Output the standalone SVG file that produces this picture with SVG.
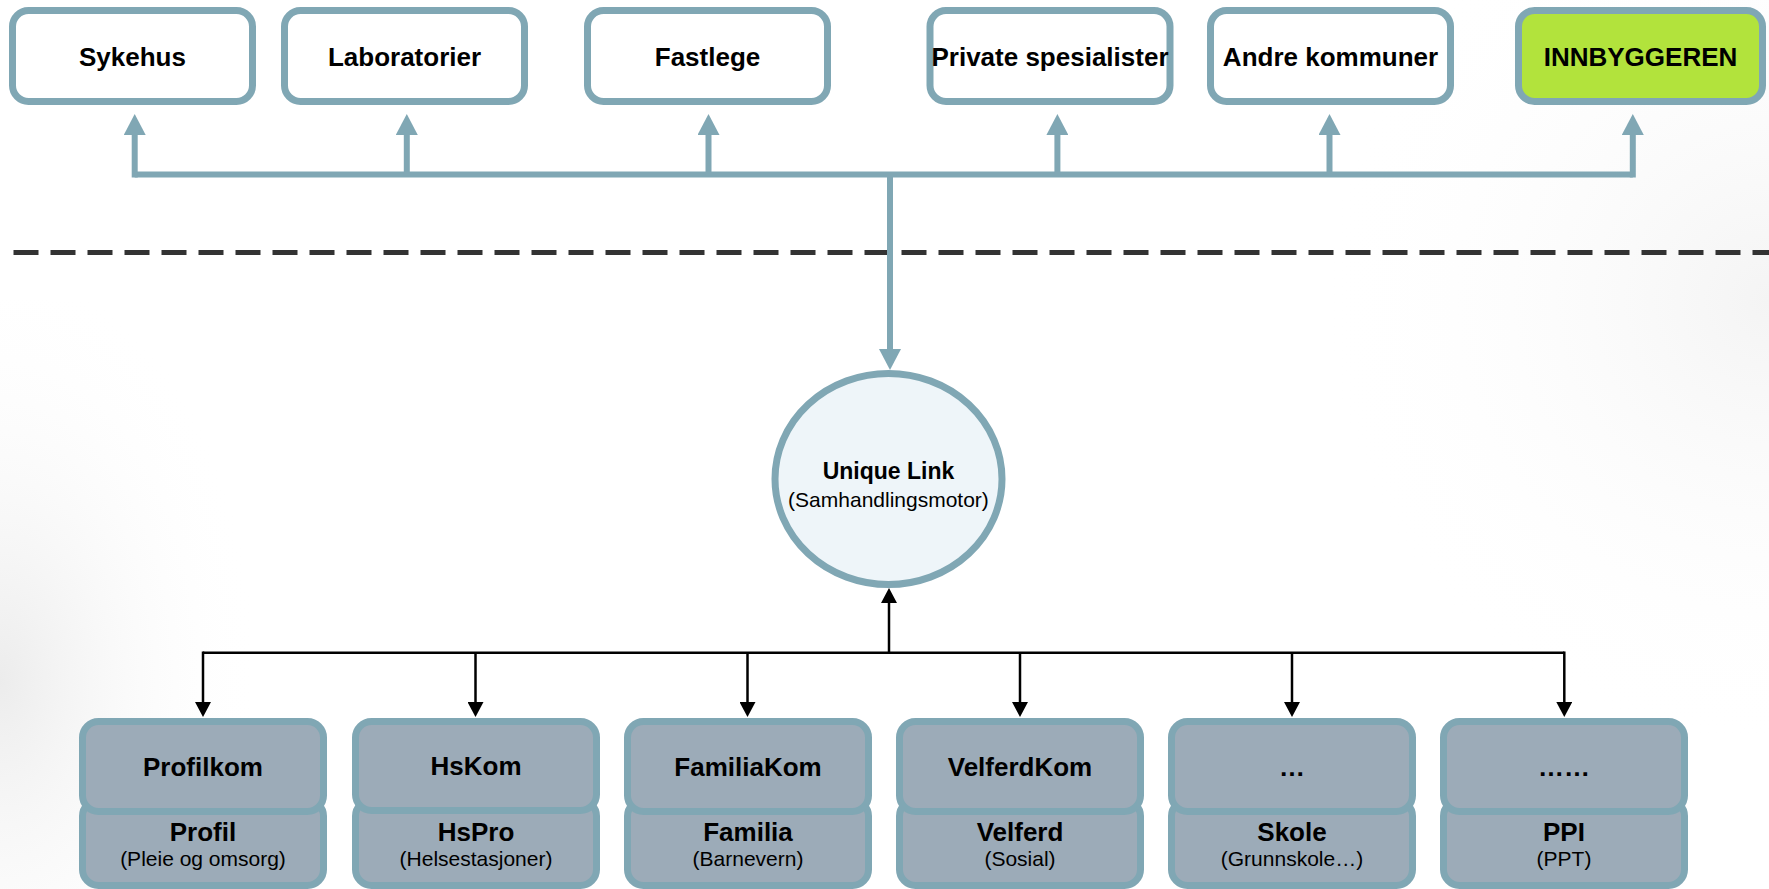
<svg xmlns="http://www.w3.org/2000/svg" width="1769" height="889" viewBox="0 0 1769 889">
  <defs>
    <radialGradient id="bgLeft" cx="0" cy="680" r="260" gradientUnits="userSpaceOnUse" gradientTransform="translate(0,680) scale(1,1.6) translate(0,-680)">
      <stop offset="0" stop-color="#ececec"/>
      <stop offset="1" stop-color="#ffffff" stop-opacity="0"/>
    </radialGradient>
    <radialGradient id="bgRight" cx="1769" cy="300" r="450" gradientUnits="userSpaceOnUse">
      <stop offset="0" stop-color="#f4f4f4"/>
      <stop offset="1" stop-color="#ffffff" stop-opacity="0"/>
    </radialGradient>
    <marker id="blueHead" markerUnits="userSpaceOnUse" markerWidth="21" markerHeight="22" refX="0" refY="11" orient="auto" viewBox="0 0 21 22">
      <path d="M0,0 L21,11 L0,22 Z" fill="#80a7b4"/>
    </marker>
    <marker id="blackHead" markerUnits="userSpaceOnUse" markerWidth="15" markerHeight="16" refX="0" refY="8" orient="auto" viewBox="0 0 15 16">
      <path d="M0,0 L15,8 L0,16 Z" fill="#000"/>
    </marker>
  </defs>
  <style>
    .top rect { fill: #ffffff; stroke: #80a7b4; stroke-width: 7; }
    .top rect.green { fill: #b2e33c; }
    .bot rect { fill: #9cabb8; stroke: #80a7b4; stroke-width: 7; }
    .t { font-family: "Liberation Sans", Arial, sans-serif; fill: #000; text-anchor: middle; }
    .b26 { font-size: 26px; font-weight: bold; }
    .r21 { font-size: 21px; }
    .blue { fill: none; stroke: #80a7b4; stroke-width: 6; }
    .blk { fill: none; stroke: #000; stroke-width: 2.5; }
  </style>

  <rect x="0" y="0" width="1769" height="889" fill="#ffffff"/>
  <rect x="0" y="300" width="300" height="589" fill="url(#bgLeft)"/>
  <rect x="1300" y="0" width="469" height="760" fill="url(#bgRight)"/>

  <line x1="13.5" y1="252.5" x2="1769" y2="252.5" stroke="#333333" stroke-width="5" stroke-dasharray="25 12"/>

  <g id="connectors">
    <path class="blue" d="M134.7,174.5 H1632.8"/>
    <line class="blue" x1="134.7" y1="177.5" x2="134.7" y2="135" marker-end="url(#blueHead)"/>
    <line class="blue" x1="406.8" y1="174.5" x2="406.8" y2="135" marker-end="url(#blueHead)"/>
    <line class="blue" x1="708.5" y1="174.5" x2="708.5" y2="135" marker-end="url(#blueHead)"/>
    <line class="blue" x1="1057.4" y1="174.5" x2="1057.4" y2="135" marker-end="url(#blueHead)"/>
    <line class="blue" x1="1329.5" y1="174.5" x2="1329.5" y2="135" marker-end="url(#blueHead)"/>
    <line class="blue" x1="1632.8" y1="177.5" x2="1632.8" y2="135" marker-end="url(#blueHead)"/>
    <line class="blue" x1="890" y1="174.5" x2="890" y2="349" marker-end="url(#blueHead)"/>

    <line class="blk" x1="889" y1="652.7" x2="889" y2="603" marker-end="url(#blackHead)"/>
    <path class="blk" d="M203,652.7 H1564.3"/>
    <line class="blk" x1="203" y1="651.5" x2="203" y2="702" marker-end="url(#blackHead)"/>
    <line class="blk" x1="475.5" y1="652.7" x2="475.5" y2="702" marker-end="url(#blackHead)"/>
    <line class="blk" x1="747.5" y1="652.7" x2="747.5" y2="702" marker-end="url(#blackHead)"/>
    <line class="blk" x1="1020" y1="652.7" x2="1020" y2="702" marker-end="url(#blackHead)"/>
    <line class="blk" x1="1292" y1="652.7" x2="1292" y2="702" marker-end="url(#blackHead)"/>
    <line class="blk" x1="1564.3" y1="651.5" x2="1564.3" y2="702" marker-end="url(#blackHead)"/>
  </g>

  <g id="sykehus" class="top">
    <rect x="12.5" y="10.5" width="240" height="91" rx="16"/>
    <text class="t b26" x="132.5" y="65.5">Sykehus</text>
  </g>
  <g id="laboratorier" class="top">
    <rect x="284.5" y="10.5" width="240" height="91" rx="16"/>
    <text class="t b26" x="404.5" y="65.5">Laboratorier</text>
  </g>
  <g id="fastlege" class="top">
    <rect x="587.5" y="10.5" width="240" height="91" rx="16"/>
    <text class="t b26" x="707.5" y="65.5">Fastlege</text>
  </g>
  <g id="private" class="top">
    <rect x="930" y="10.5" width="240" height="91" rx="16"/>
    <text class="t b26" x="1050" y="65.5">Private spesialister</text>
  </g>
  <g id="andre" class="top">
    <rect x="1210.5" y="10.5" width="240" height="91" rx="16"/>
    <text class="t b26" x="1330.5" y="65.5">Andre kommuner</text>
  </g>
  <g id="innbyggeren" class="top">
    <rect class="green" x="1518.5" y="10.5" width="244" height="91" rx="16"/>
    <text class="t b26" x="1640.5" y="65.5">INNBYGGEREN</text>
  </g>

  <g id="uniquelink">
    <ellipse cx="888.5" cy="479" rx="113.5" ry="105.5" fill="#eef5f9" stroke="#80a7b4" stroke-width="7"/>
    <text class="t" x="888.5" y="479" font-size="23" font-weight="bold">Unique Link</text>
    <text class="t" x="888.5" y="506.5" font-size="21">(Samhandlingsmotor)</text>
  </g>

  <g id="profil" class="bot">
    <rect x="82.5" y="800" width="241" height="85.5" rx="16"/>
    <rect x="82.5" y="721.5" width="241" height="90" rx="16"/>
    <text class="t b26" x="203" y="776">Profilkom</text>
    <text class="t b26" x="203" y="841">Profil</text>
    <text class="t r21" x="203" y="866">(Pleie og omsorg)</text>
  </g>
  <g id="hspro" class="bot">
    <rect x="355.5" y="800" width="241" height="85.5" rx="16"/>
    <rect x="355.5" y="721.5" width="241" height="89" rx="16"/>
    <text class="t b26" x="476" y="775">HsKom</text>
    <text class="t b26" x="476" y="841">HsPro</text>
    <text class="t r21" x="476" y="866">(Helsestasjoner)</text>
  </g>
  <g id="familia" class="bot">
    <rect x="627.5" y="800" width="241" height="85.5" rx="16"/>
    <rect x="627.5" y="721.5" width="241" height="90" rx="16"/>
    <text class="t b26" x="748" y="776">FamiliaKom</text>
    <text class="t b26" x="748" y="841">Familia</text>
    <text class="t r21" x="748" y="866">(Barnevern)</text>
  </g>
  <g id="velferd" class="bot">
    <rect x="899.5" y="800" width="241" height="85.5" rx="16"/>
    <rect x="899.5" y="721.5" width="241" height="90" rx="16"/>
    <text class="t b26" x="1020" y="776">VelferdKom</text>
    <text class="t b26" x="1020" y="841">Velferd</text>
    <text class="t r21" x="1020" y="866">(Sosial)</text>
  </g>
  <g id="skole" class="bot">
    <rect x="1171.5" y="800" width="241" height="85.5" rx="16"/>
    <rect x="1171.5" y="721.5" width="241" height="90" rx="16"/>
    <text class="t b26" x="1292" y="776">…</text>
    <text class="t b26" x="1292" y="841">Skole</text>
    <text class="t r21" x="1292" y="866">(Grunnskole…)</text>
  </g>
  <g id="ppi" class="bot">
    <rect x="1443.5" y="800" width="241" height="85.5" rx="16"/>
    <rect x="1443.5" y="721.5" width="241" height="90" rx="16"/>
    <text class="t b26" x="1564" y="776">……</text>
    <text class="t b26" x="1564" y="841">PPI</text>
    <text class="t r21" x="1564" y="866">(PPT)</text>
  </g>
</svg>
